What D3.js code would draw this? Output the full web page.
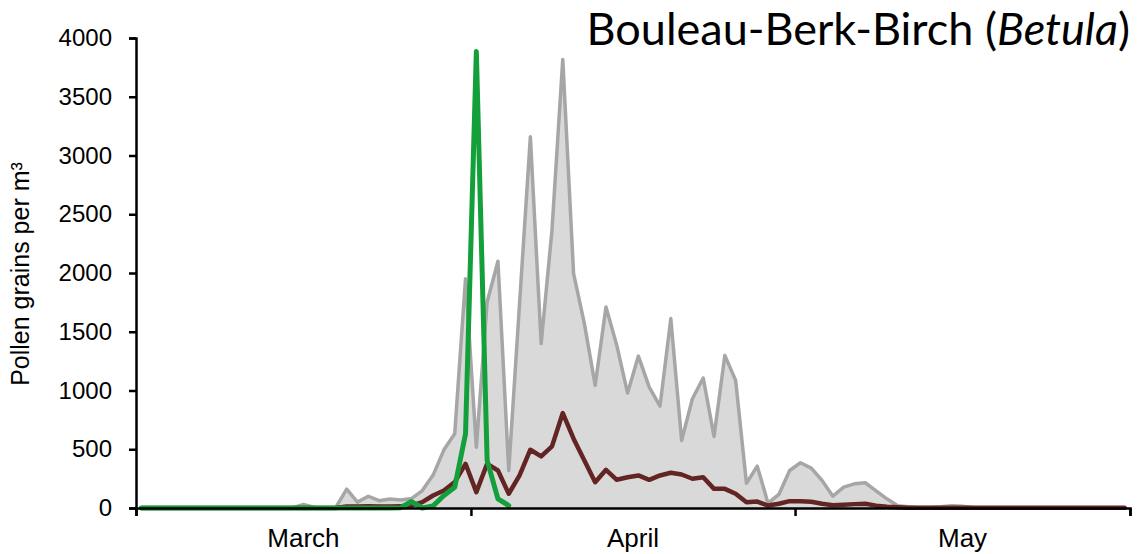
<!DOCTYPE html>
<html>
<head>
<meta charset="utf-8">
<script src="https://cdn.jsdelivr.net/npm/d3@7"></script>
<style>
  body { margin: 0; background: #fff; }
  svg { display: block; }
</style>
</head>
<body>
<svg id="chart" width="1138" height="554"></svg>
<script>
// Birch pollen, daily values March 1 to May 31 (day index 0..91)
const months = ["March", "April", "May"];
const monthStarts = [0, 31, 61, 92];
const yTicks = [0, 500, 1000, 1500, 2000, 2500, 3000, 3500, 4000];

// grey area series
const greySeries = [
    0, 0, 0, 0, 0, 0, 0, 0, 0, 0,
    0, 0, 0, 0, 0, 30, 5, 0, 5, 160,
    50, 100, 62, 76, 68, 80, 148, 280, 495, 632,
    1952, 518, 1753, 2100, 319, 1740, 3159, 1399, 2364, 3818,
    1995, 1569, 1044, 1711, 1384, 978, 1293, 1029, 867, 1612,
    575, 930, 1106, 609, 1299, 1086, 211, 356, 41, 115,
    319, 385, 339, 234, 101, 177, 206, 215, 145, 78,
    20, 10, 5, 5, 10, 20, 15, 5, 3, 3,
    3, 3, 3, 3, 3, 3, 3, 3, 3, 3,
    3, 3
];

// dark red line series
const redSeries = [
    0, 0, 0, 0, 0, 0, 0, 0, 0, 0,
    0, 0, 0, 0, 0, 0, 0, 0, 0, 12,
    12, 15, 12, 12, 15, 20, 50, 106, 149, 220,
    376, 135, 376, 319, 121, 277, 496, 439, 524, 808,
    590, 405, 220, 325, 240, 262, 277, 240, 277, 300,
    285, 249, 262, 163, 163, 121, 49, 55, 21, 36,
    58, 58, 53, 36, 24, 28, 33, 36, 20, 10,
    6, 3, 3, 3, 3, 3, 3, 3, 3, 3,
    3, 3, 3, 3, 3, 3, 3, 3, 3, 3,
    3, 3
];

// green line series (stops early April)
const greenSeries = [
    0, 0, 0, 0, 0, 0, 0, 0, 0, 0,
    0, 0, 0, 0, 0, 0, 0, 0, 0, 0,
    0, 0, 0, 0, 3, 55, 0, 18, 106, 177,
    632, 3885, 405, 78, 21
];

const svg = d3.select("#chart");

const x = d3.scaleLinear().domain([0, 92]).range([136, 1130]);
const y = d3.scaleLinear().domain([0, 4000]).range([508, 38]);

const px = (d, i) => x(i + 0.5);

// grey area + outline
const area = d3.area()
    .x(px)
    .y0(y(0))
    .y1(d => y(d));

svg.append("path")
    .datum(greySeries)
    .attr("d", area)
    .attr("fill", "#d9d9d9");

const line = d3.line()
    .x(px)
    .y(d => y(d));

svg.append("path")
    .datum(greySeries)
    .attr("d", line)
    .attr("fill", "none")
    .attr("stroke", "#a6a6a6")
    .attr("stroke-width", 3.5)
    .attr("stroke-linejoin", "round");

svg.append("path")
    .datum(redSeries)
    .attr("d", line)
    .attr("fill", "none")
    .attr("stroke", "#632523")
    .attr("stroke-width", 4.5)
    .attr("stroke-linejoin", "round")
    .attr("stroke-linecap", "round");

svg.append("path")
    .datum(greenSeries)
    .attr("d", line)
    .attr("fill", "none")
    .attr("stroke", "#13a03a")
    .attr("stroke-width", 5)
    .attr("stroke-linejoin", "round")
    .attr("stroke-linecap", "round");

// y axis
const yAxis = d3.axisLeft(y)
    .tickValues(yTicks)
    .tickSize(7)
    .tickPadding(17)
    .tickFormat(d3.format("d"));

const gy = svg.append("g")
    .attr("transform", "translate(136,0)")
    .call(yAxis);
gy.select(".domain").attr("stroke", "#000").attr("stroke-width", 2.5);
gy.selectAll(".tick line").attr("stroke", "#000").attr("stroke-width", 2.5);
gy.selectAll(".tick text")
    .attr("font-family", "'Liberation Sans', Arial, sans-serif")
    .attr("font-size", "24px")
    .attr("fill", "#000");

// x axis: ticks at month boundaries, labels centred in each month
const xAxis = d3.axisBottom(x)
    .tickValues(monthStarts)
    .tickSize(8)
    .tickFormat("");

const gx = svg.append("g")
    .attr("transform", "translate(0,508)")
    .call(xAxis);
gx.select(".domain").attr("stroke", "#000").attr("stroke-width", 2.5);
gx.selectAll(".tick line").attr("stroke", "#000").attr("stroke-width", 2.5);

svg.selectAll(".month")
    .data(months)
    .enter()
    .append("text")
    .attr("class", "month")
    .attr("x", (d, i) => x((monthStarts[i] + monthStarts[i + 1]) / 2))
    .attr("y", 547)
    .attr("text-anchor", "middle")
    .attr("font-family", "'Liberation Sans', Arial, sans-serif")
    .attr("font-size", "26px")
    .text(d => d);

// y axis title
svg.append("text")
    .attr("transform", "translate(29,274) rotate(-90)")
    .attr("text-anchor", "middle")
    .attr("font-family", "'Liberation Sans', Arial, sans-serif")
    .attr("font-size", "25px")
    .text("Pollen grains per m³");

// title
const title = svg.append("text")
    .attr("x", 1130)
    .attr("y", 45)
    .attr("text-anchor", "end")
    .attr("font-family", "Lato, 'Open Sans', sans-serif")
    .attr("font-size", "45px");
title.append("tspan").text("Bouleau-Berk-Birch (");
title.append("tspan").attr("font-style", "italic").text("Betula");
title.append("tspan").text(")");
</script>
</body>
</html>
